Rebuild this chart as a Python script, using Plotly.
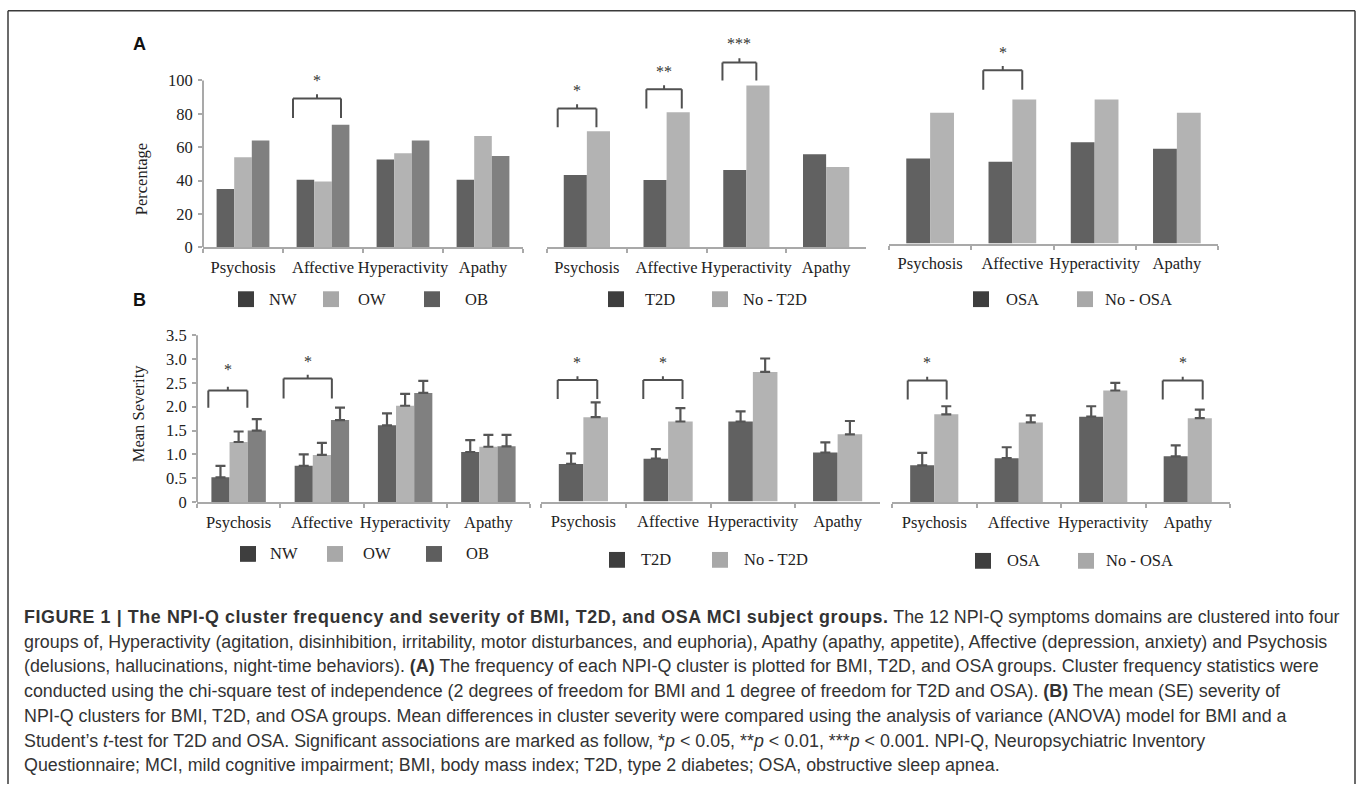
import plotly.graph_objects as go

W, H = 1357, 794
SERIF = "Liberation Serif"
SANS = "Liberation Sans"
AXC = "#a9a9a9"
INK = "#505050"

# ---------------- data ----------------
categories = ["Psychosis", "Affective", "Hyperactivity", "Apathy"]

bmi_groups = ["NW", "OW", "OB"]
t2d_groups = ["T2D", "No - T2D"]
osa_groups = ["OSA", "No - OSA"]

# Panel A: cluster frequency (%)
freq_nw = [35, 40.5, 52.7, 40.5]
freq_ow = [54, 39.5, 56.4, 66.7]
freq_ob = [64, 73.4, 64, 54.8]
freq_t2d = [43.4, 40.4, 46.3, 55.8]
freq_no_t2d = [69.6, 80.9, 97, 48.1]
freq_osa = [52, 50, 62, 58]
freq_no_osa = [80, 88, 88, 80]

# Panel B: mean severity and SE
sev_nw = [0.52, 0.76, 1.61, 1.05]
se_nw = [0.24, 0.24, 0.25, 0.25]
sev_ow = [1.26, 0.99, 2.02, 1.16]
se_ow = [0.22, 0.25, 0.25, 0.25]
sev_ob = [1.50, 1.72, 2.29, 1.17]
se_ob = [0.24, 0.26, 0.25, 0.24]
sev_t2d = [0.79, 0.90, 1.68, 1.03]
se_t2d = [0.22, 0.20, 0.21, 0.21]
sev_no_t2d = [1.77, 1.68, 2.72, 1.41]
se_no_t2d = [0.31, 0.28, 0.28, 0.28]
sev_osa = [0.77, 0.92, 1.79, 0.96]
se_osa = [0.26, 0.23, 0.22, 0.23]
sev_no_osa = [1.84, 1.67, 2.34, 1.76]
se_no_osa = [0.17, 0.15, 0.16, 0.18]

freq_ticks = [0, 20, 40, 60, 80, 100]
sev_ticks = [0, 0.5, 1.0, 1.5, 2.0, 2.5, 3.0, 3.5]
sev_ticktext = ["0", "0.5", "1.0", "1.5", "2.0", "2.5", "3.0", "3.5"]

# significance brackets: (category index, stars, leg bottom, bar level, star level)
sig_a1 = [(1, "*", 77.5, 89.2, 101.8)]
sig_a2 = [(0, "*", 72, 83.2, 96), (1, "**", 83.2, 94.7, 107.2), (2, "***", 100, 110.8, 124)]
sig_a3 = [(1, "*", 94, 106, 118.7)]
sig_b1 = [(0, "*", 1.98, 2.34, 2.84), (1, "*", 2.17, 2.59, 3.01)]
sig_b2 = [(0, "*", 2.15, 2.55, 2.99), (1, "*", 2.15, 2.55, 2.99)]
sig_b3 = [(0, "*", 2.15, 2.55, 2.99), (3, "*", 2.15, 2.55, 2.99)]

# ---------------- styling / layout ----------------
bar_colors3 = ["#616161", "#b3b3b3", "#808080"]
bar_colors2 = ["#616161", "#b3b3b3"]
leg_colors3 = ["#3e3e3e", "#a8a8a8", "#5e5e5e"]
leg_colors2 = ["#3e3e3e", "#a8a8a8"]


def px_x(p):
    return p / W


def px_y(p):
    return 1 - p / H


panels = [
    dict(x=(203, 523), y0=250.5, scale=1.69, top=18, bw=0.22,
         series=[freq_nw, freq_ow, freq_ob], errs=None, names=bmi_groups,
         sig=sig_a1, sigx=[(-0.375, 0.225)], tick=2.5),
    dict(x=(547, 866), y0=250.5, scale=1.69, top=18, bw=0.29,
         series=[freq_t2d, freq_no_t2d], errs=None, names=t2d_groups,
         sig=sig_a2, sigx=[(-0.366, 0.12), (-0.254, 0.19), (-0.30, 0.125)], tick=2.5),
    dict(x=(889, 1218), y0=246.7, scale=1.657, top=18, bw=0.29,
         series=[freq_osa, freq_no_osa], errs=None, names=osa_groups,
         sig=sig_a3, sigx=[(-0.354, 0.12)], tick=2.5),
    dict(x=(197, 530), y0=508.5, scale=48.3, top=330, bw=0.218,
         series=[sev_nw, sev_ow, sev_ob], errs=[se_nw, se_ow, se_ob], names=bmi_groups,
         sig=sig_b1, sigx=[(-0.364, 0.105), (-0.46, 0.12)], tick=0.08),
    dict(x=(541, 880), y0=508, scale=48.3, top=330, bw=0.29,
         series=[sev_t2d, sev_no_t2d], errs=[se_t2d, se_no_t2d], names=t2d_groups,
         sig=sig_b2, sigx=[(-0.303, 0.164), (-0.293, 0.17)], tick=0.08),
    dict(x=(892, 1230), y0=508.5, scale=48.3, top=330, bw=0.285,
         series=[sev_osa, sev_no_osa], errs=[se_osa, se_no_osa], names=osa_groups,
         sig=sig_b3, sigx=[(-0.314, 0.147), (-0.296, 0.177)], tick=0.08),
]

fig = go.Figure()
shapes = []
annotations = []
layout = {}

for i, p in enumerate(panels, start=1):
    xa = "x" if i == 1 else f"x{i}"
    ya = "y" if i == 1 else f"y{i}"
    n = len(p["series"])
    colors = bar_colors3 if n == 3 else bar_colors2
    w = p["bw"]
    for k, vals in enumerate(p["series"]):
        off = (k - n / 2) * w
        kw = {}
        if p["errs"] is not None:
            kw["error_y"] = dict(type="data", symmetric=False, array=p["errs"][k],
                                 arrayminus=[0] * len(vals), color="#555555",
                                 thickness=2.2, width=5)
        fig.add_trace(go.Bar(x=categories, y=vals, name=p["names"][k], width=w, offset=off,
                             marker=dict(color=colors[k], line=dict(width=0)),
                             xaxis=xa, yaxis=ya, showlegend=False, **kw))
    ymax = (p["y0"] - p["top"]) / p["scale"]
    layout["xaxis" if i == 1 else f"xaxis{i}"] = dict(
        domain=[px_x(p["x"][0]), px_x(p["x"][1])], anchor=ya, type="category",
        categoryorder="array", categoryarray=categories, range=[-0.5, 3.5],
        showline=True, linecolor=AXC, linewidth=2, ticks="outside", tickson="boundaries",
        ticklen=4, tickwidth=1.5, tickcolor=AXC, tickangle=0, ticklabelstandoff=4,
        tickfont=dict(family=SERIF, size=16.5, color="#222"), showgrid=False,
        zeroline=False, fixedrange=True)
    yax = dict(domain=[px_y(p["y0"]), px_y(p["top"])], anchor=xa, range=[0, ymax],
               showgrid=False, zeroline=False, showline=False, fixedrange=True)
    if i == 1:
        yax.update(tickvals=freq_ticks, ticks="outside", ticklen=4, tickwidth=1.5,
                   tickcolor=AXC, ticklabelstandoff=2,
                   tickfont=dict(family=SERIF, size=16.5, color="#222"))
        shapes.append(dict(type="line", xref="x domain", yref="y", x0=0, x1=0, y0=0,
                           y1=freq_ticks[-1], line=dict(color=AXC, width=2)))
    elif i == 4:
        yax.update(tickvals=sev_ticks, ticktext=sev_ticktext, ticks="outside", ticklen=4,
                   tickwidth=1.5, tickcolor=AXC, ticklabelstandoff=2,
                   tickfont=dict(family=SERIF, size=16.5, color="#222"))
        shapes.append(dict(type="line", xref="x4 domain", yref="y4", x0=0, x1=0, y0=0,
                           y1=sev_ticks[-1], line=dict(color=AXC, width=2)))
    else:
        yax.update(visible=False)
    layout["yaxis" if i == 1 else f"yaxis{i}"] = yax

    # significance brackets
    for (ci, stars, yb, yh, ys), (dl, dr) in zip(p["sig"], p["sigx"]):
        xl, xr = ci + dl, ci + dr
        xc = (xl + xr) / 2
        ln = dict(color=INK, width=2)
        for (a0, b0, a1, b1) in [(xl, yb, xl, yh), (xl, yh, xr, yh), (xr, yh, xr, yb),
                                 (xc, yh, xc, yh + p["tick"])]:
            shapes.append(dict(type="line", xref=xa, yref=ya, x0=a0, y0=b0, x1=a1, y1=b1,
                               line=ln))
        annotations.append(dict(xref=xa, yref=ya, x=xc, y=ys, text=stars, showarrow=False,
                                font=dict(family=SERIF, size=16, color="#333"),
                                xanchor="center", yanchor="middle", yshift=-3))

# legends (box left px, text centre px, y centre px)
legend_rows = [
    (bmi_groups, leg_colors3, [238, 323, 424], [282.5, 372, 476.5], 303),
    (t2d_groups, leg_colors2, [608, 712], [660, 775], 303),
    (osa_groups, leg_colors2, [973, 1077], [1022, 1138.5], 303),
    (bmi_groups, leg_colors3, [240, 327, 426], [284, 377, 477], 561),
    (t2d_groups, leg_colors2, [609, 712], [656, 776], 567),
    (osa_groups, leg_colors2, [975, 1078], [1023.5, 1139.5], 568),
]
for names, cols, boxes, texts, yc in legend_rows:
    for nm, c, bx, tx in zip(names, cols, boxes, texts):
        shapes.append(dict(type="rect", xref="paper", yref="paper", x0=px_x(bx),
                           x1=px_x(bx + 16), y0=px_y(yc + 8), y1=px_y(yc - 8),
                           fillcolor=c, line=dict(width=0)))
        annotations.append(dict(xref="paper", yref="paper", x=px_x(tx), y=px_y(yc), text=nm,
                                showarrow=False, xanchor="center", yanchor="middle",
                                font=dict(family=SERIF, size=16.5, color="#222")))

# axis titles and panel letters
annotations += [
    dict(xref="paper", yref="paper", x=px_x(141.5), y=px_y(182), text="Percentage",
         textangle=-90, showarrow=False, xanchor="center", yanchor="middle",
         font=dict(family=SERIF, size=16.5, color="#222")),
    dict(xref="paper", yref="paper", x=px_x(138), y=px_y(419.5), text="Mean Severity",
         textangle=-90, showarrow=False, xanchor="center", yanchor="middle",
         font=dict(family=SERIF, size=16.5, color="#222")),
    dict(xref="paper", yref="paper", x=px_x(139), y=px_y(45), text="<b>A</b>",
         showarrow=False, xanchor="center", yanchor="middle",
         font=dict(family=SANS, size=18, color="#111")),
    dict(xref="paper", yref="paper", x=px_x(139), y=px_y(304), text="<b>B</b>",
         showarrow=False, xanchor="center", yanchor="middle",
         font=dict(family=SANS, size=18, color="#111")),
]

caption_lines = [
    "<b><span style=\"letter-spacing:0.6px\">FIGURE 1 | The NPI-Q cluster frequency and severity of BMI, T2D, and OSA MCI subject groups.</span></b> The 12 NPI-Q symptoms domains are clustered into four",
    "groups of, Hyperactivity (agitation, disinhibition, irritability, motor disturbances, and euphoria), Apathy (apathy, appetite), Affective (depression, anxiety) and Psychosis",
    "(delusions, hallucinations, night-time behaviors). <b>(A)</b> The frequency of each NPI-Q cluster is plotted for BMI, T2D, and OSA groups. Cluster frequency statistics were",
    "conducted using the chi-square test of independence (2 degrees of freedom for BMI and 1 degree of freedom for T2D and OSA). <b>(B)</b> The mean (SE) severity of",
    "NPI-Q clusters for BMI, T2D, and OSA groups. Mean differences in cluster severity were compared using the analysis of variance (ANOVA) model for BMI and a",
    "Student\u2019s <i>t</i>-test for T2D and OSA. Significant associations are marked as follow, *<i>p</i> &lt; 0.05, **<i>p</i> &lt; 0.01, ***<i>p</i> &lt; 0.001. NPI-Q, Neuropsychiatric Inventory",
    "Questionnaire; MCI, mild cognitive impairment; BMI, body mass index; T2D, type 2 diabetes; OSA, obstructive sleep apnea.",
]
caption_y = [625, 650, 675, 700, 725, 750, 775]
for txt, yc in zip(caption_lines, caption_y):
    annotations.append(dict(xref="paper", yref="paper", x=px_x(22), y=px_y(yc), text=txt,
                            showarrow=False, xanchor="left", yanchor="middle",
                            font=dict(family=SANS, size=17.85, color="#333")))

# outer frame (top, left, right)
frame = dict(color="#3a3a3a", width=1.5)
shapes += [
    dict(type="line", xref="paper", yref="paper", x0=px_x(8), x1=px_x(1355), y0=px_y(11), y1=px_y(11), line=frame),
    dict(type="line", xref="paper", yref="paper", x0=px_x(8), x1=px_x(8), y0=px_y(11), y1=0, line=frame),
    dict(type="line", xref="paper", yref="paper", x0=px_x(1355), x1=px_x(1355), y0=px_y(11), y1=0, line=frame),
]

fig.update_layout(
    width=W, height=H, margin=dict(l=0, r=0, t=0, b=0),
    paper_bgcolor="white", plot_bgcolor="white", barmode="overlay", showlegend=False,
    shapes=shapes, annotations=annotations, **layout,
)

post = (
    "document.documentElement.style.margin='0px';"
    "document.body.style.margin='0px';"
    "document.body.style.overflow='hidden';"
    "var gd=document.getElementById('{plot_id}');"
    "gd.style.position='fixed';gd.style.left='0px';gd.style.top='0px';"
)
fig.write_html("out.html", config={"displayModeBar": False}, post_script=post)
